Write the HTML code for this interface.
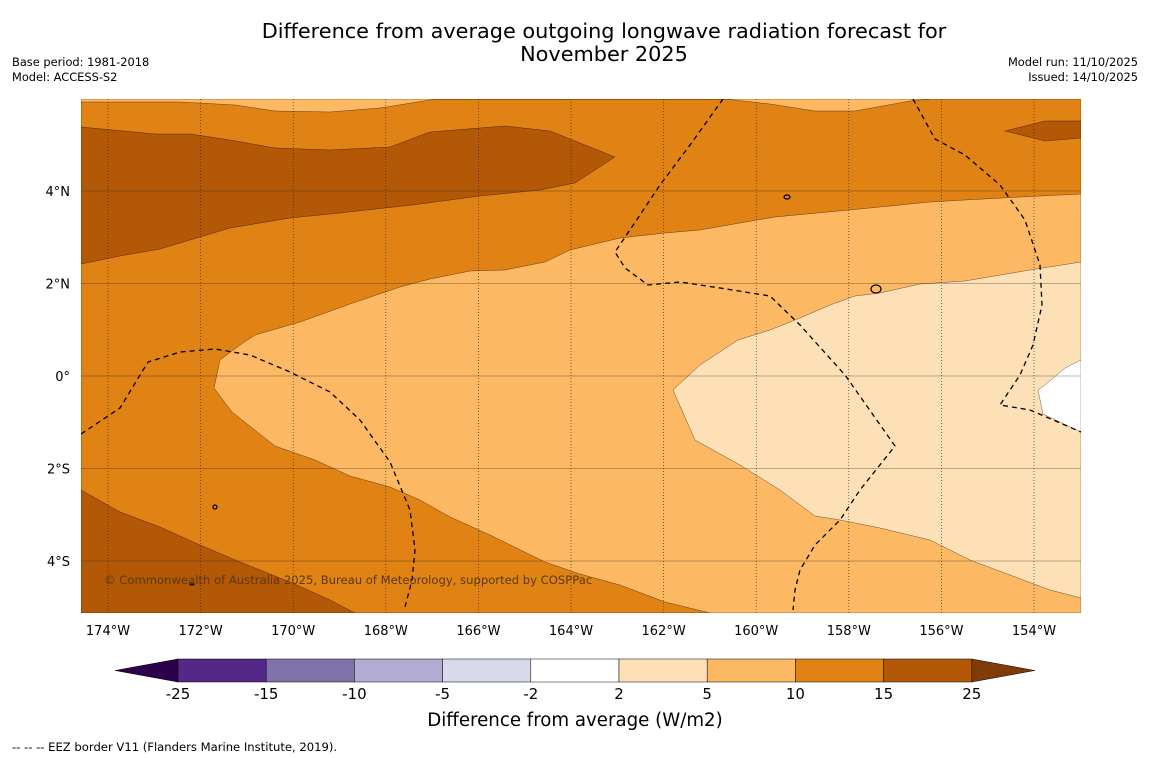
<!DOCTYPE html>
<html><head><meta charset="utf-8"><style>
body{margin:0;background:#fff;font-family:"Liberation Sans","DejaVu Sans",sans-serif;}
svg{display:block}
</style></head><body>
<svg id="svg" width="1150" height="758" xmlns="http://www.w3.org/2000/svg" font-family="DejaVu Sans, Liberation Sans, sans-serif">
<rect width="1150" height="758" fill="#fff"/>
<text x="604" y="38" font-size="20.8" text-anchor="middle">Difference from average outgoing longwave radiation forecast for</text>
<text x="604" y="61" font-size="20.8" text-anchor="middle">November 2025</text>
<text x="12" y="66" font-size="11.4">Base period: 1981-2018</text>
<text x="12" y="81" font-size="11.4">Model: ACCESS-S2</text>
<text x="1138" y="66" font-size="11.4" text-anchor="end">Model run: 11/10/2025</text>
<text x="1138" y="81" font-size="11.4" text-anchor="end">Issued: 14/10/2025</text>
<g id="map">
<clipPath id="c"><rect x="81" y="99" width="1000" height="514"/></clipPath>
<g clip-path="url(#c)" stroke="#000" stroke-width="0.3">
<rect x="81" y="99" width="1000" height="514" fill="#e08214"/>
<path fill="#fdb863" d="M81,99 H930 L910,101 L855,111 L815,111 L770,104 L725,99 H440 L430,100 L380,108 L330,112 L275,111 L235,105 L180,102 L81,102 Z"/>
<path fill="#b35806" d="M81,127 L155,134 L190,134 L230,140 L275,148 L330,150 L390,147 L430,132 L505,126 L550,131 L615,157 L575,183 L540,190 L480,196 L420,204 L385,208 L330,214 L290,218 L230,228 L200,237 L160,249 L120,256 L81,264 Z"/>
<path fill="#b35806" d="M1005,131 L1045,121 L1081,121 L1081,138 L1045,141 Z"/>
<path fill="#fdb863" d="M1081,194 L1040,196 L965,200 L930,202 L870,208 L775,217 L740,223 L700,230 L665,233 L620,238 L570,250 L545,262 L505,270 L470,271 L430,279 L400,287 L350,304 L300,322 L255,335 L240,345 L220,360 L214,388 L232,412 L275,446 L315,460 L350,476 L390,487 L420,500 L450,517 L490,535 L545,562 L580,574 L620,585 L665,602 L710,613 L1081,613 Z"/>
<path fill="#fee0b6" d="M1081,262 L1030,270 L965,281 L920,284 L880,293 L855,296 L830,305 L800,318 L770,330 L738,340 L700,365 L673,390 L695,440 L740,465 L780,490 L815,516 L840,520 L880,528 L930,540 L970,560 L1010,575 L1050,590 L1081,598 Z"/>
<path fill="#ffffff" d="M1081,360 L1065,368 L1045,385 L1038,390 L1043,414 L1081,432 Z"/>
<path fill="#b35806" d="M81,490 L120,512 L160,527 L200,545 L240,562 L290,582 L330,600 L355,613 L81,613 Z"/>
</g>
<g id="grid" stroke="#222" stroke-width="0.6"></g>
<g fill="none" stroke="#000" stroke-width="1.3" stroke-dasharray="5,4" clip-path="url(#c)">
<polyline points="81,434 120,408 148,362 180,352 215,349 250,355 290,372 330,392 360,420 390,462 410,510 415,550 412,580 405,607"/>
<polyline points="723,99 690,145 660,185 640,215 615,252 625,268 648,285 680,282 720,288 770,296 800,325 845,375 895,446 860,490 840,520 815,545 800,570 795,590 793,610"/>
<polyline points="913,99 935,139 965,155 1000,185 1025,220 1040,265 1042,305 1033,345 1020,375 1000,405 1030,410 1081,432"/>
</g>
<g fill="none" stroke="#000" stroke-width="1.2">
<ellipse cx="787" cy="197" rx="3" ry="2"/><ellipse cx="876" cy="289" rx="5" ry="4"/><ellipse cx="215" cy="507" rx="2" ry="2"/><ellipse cx="192" cy="584" rx="2" ry="1"/>
</g>
<text x="104" y="584" font-size="11.6" fill="#5a3a10">© Commonwealth of Australia 2025, Bureau of Meteorology, supported by COSPPac</text>
</g>
<g id="axes" font-size="13"></g>
<g id="cbar"></g>
<text x="575" y="726" font-size="18.2" text-anchor="middle">Difference from average (W/m2)</text>
<text x="12" y="751" font-size="11.6">--  --  -- EEZ border V11 (Flanders Marine Institute, 2019).</text>
</svg>
<script>
const lonTicks=[174,172,170,168,166,164,162,160,158,156,154];
const latTicks=[4,2,0,-2,-4];
const levels=[-25,-15,-10,-5,-2,2,5,10,15,25];
const levelColors=["#542788","#8073ac","#b2abd2","#d8daeb","#ffffff","#fee0b6","#fdb863","#e08214","#b35806"];
const extColors=["#2d004b","#7f3b08"];
const NS="http://www.w3.org/2000/svg";
function xLon(w){return 108+(174-w)*46.3;}
function yLat(l){return 376-l*46.25;}
function mk(t,a,p,txt){const e=document.createElementNS(NS,t);for(const k in a)e.setAttribute(k,a[k]);if(txt!==undefined)e.textContent=txt;p.appendChild(e);return e;}
const grid=document.getElementById('grid'),axes=document.getElementById('axes'),cb=document.getElementById('cbar');
lonTicks.forEach(w=>{const x=xLon(w);
 const l=mk('line',{x1:x,x2:x,y1:99,y2:613,'stroke-dasharray':'1,2'},grid);
 
 
 const t=mk('text',{x:x,y:635,'text-anchor':'middle'},axes,w+'°W');
 
 });
latTicks.forEach(v=>{const y=yLat(v);
 const l=mk('line',{x1:81,x2:1081,y1:y,y2:y,'stroke-opacity':0.6},grid);
 
 
 const t=mk('text',{x:70,y:y+5,'text-anchor':'end'},axes,v===0?'0°':Math.abs(v)+'°'+(v>0?'N':'S'));
 
 });
const cx0=178,cw=88.2,cy=659,ch=23;
const n=levelColors.length;
const lt=mk('polygon',{points:`${cx0},${cy} ${cx0},${cy+ch} 115,${cy+ch/2}`,fill:extColors[0],stroke:'#000','stroke-width':0.5},cb);


const xe=cx0+n*cw;
const rt=mk('polygon',{points:`${xe},${cy} ${xe},${cy+ch} ${xe+63},${cy+ch/2}`,fill:extColors[1],stroke:'#000','stroke-width':0.5},cb);


levelColors.forEach((c,i)=>{const r=mk('rect',{x:cx0+i*cw,y:cy,width:cw,height:ch,fill:c,stroke:'#000','stroke-width':0.5},cb);
 
 });
levels.forEach((v,i)=>{const t=mk('text',{x:cx0+i*cw,y:699,'text-anchor':'middle','font-size':15},cb,String(v));
 
 });
</script>
</body></html>
